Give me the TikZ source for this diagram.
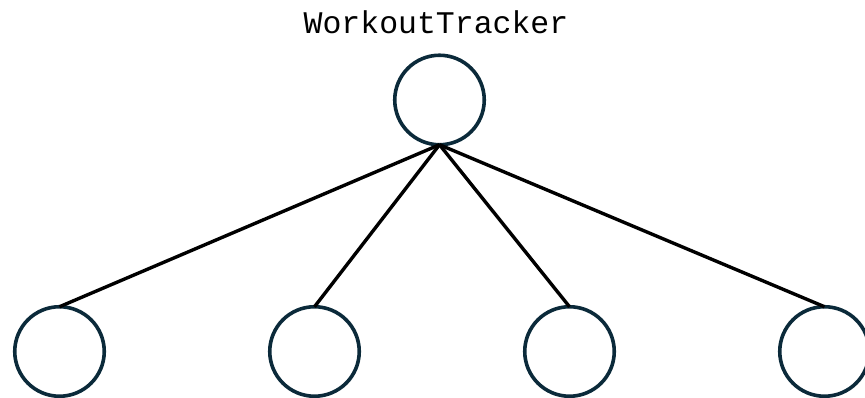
\documentclass[tikz,border=0pt]{standalone}
\usepackage{fontspec}
\setmonofont{Liberation Mono}
\usepackage{tikz}
\definecolor{circnavy}{HTML}{0B2A3A}
\tikzstyle{member} = [circle, minimum size=89.5pt, inner sep=0pt, outer sep=0pt,
draw=circnavy, line width=3.6pt]
\tikzstyle{title} = [font=\ttfamily\fontsize{31.5}{36}\selectfont, anchor=base,
inner sep=0pt]
\tikzstyle{link} = [line width=3.4pt, black]

\begin{document}
\begin{tikzpicture}[x=1pt, y=1pt]
    \useasboundingbox (0,0) rectangle (865,398);
    \node (lbl) [title] at (436,364) {WorkoutTracker};
    \node (root) [member] at (439.5,298) {};
    \node (c1) [member] at (59.5,46.5) {};
    \node (c2) [member, right of= c1, node distance = 255pt] {};
    \node (c3) [member, right of= c2, node distance = 255pt] {};
    \node (c4) [member, right of= c3, node distance = 255pt] {};
    \foreach \c in {c1,c2,c3,c4}
        \draw [link] (root.south) -- (\c.north);
\end{tikzpicture}
\end{document}
